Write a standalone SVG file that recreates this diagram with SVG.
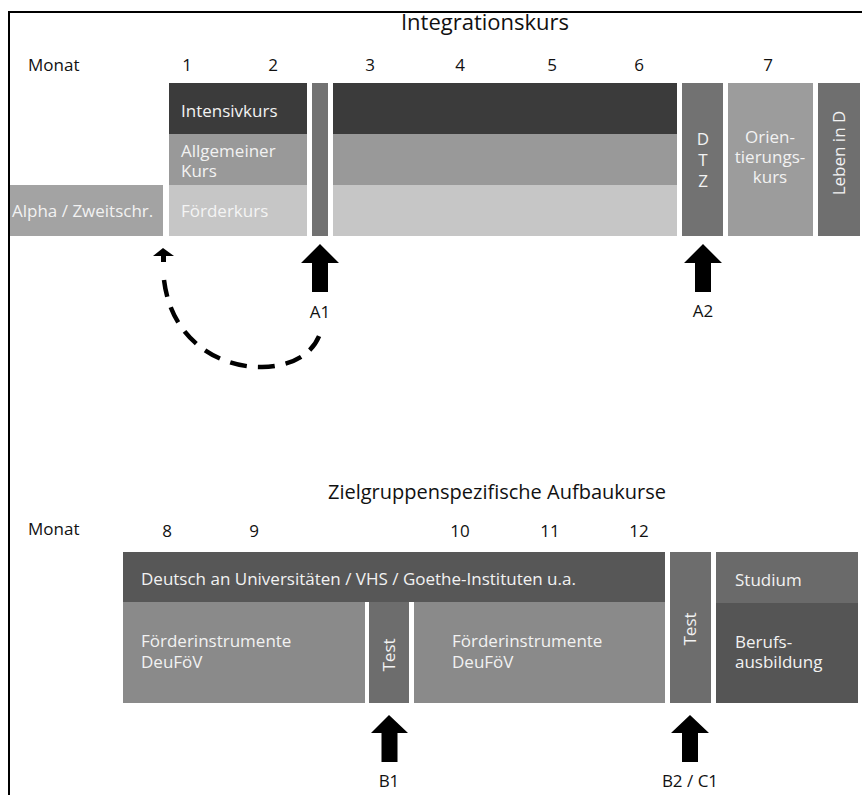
<svg xmlns="http://www.w3.org/2000/svg" width="862" height="795" viewBox="0 0 862 795">
  <style>
    text { font-family: "Open Sans", "Noto Sans", "DejaVu Sans", sans-serif; }
    .title { font-size: 22px; fill: #111; }
    .title2 { font-size: 20px; fill: #111; }
    .lbl { font-size: 17px; fill: #111; }
    .in { font-size: 17px; fill: #f2f2f2; }
    .inl { font-size: 17px; fill: #f4f4f4; }
    .mid { text-anchor: middle; }
    .arrow { fill: #000; }
    .dash { fill: none; stroke: #000; stroke-width: 4.5; stroke-dasharray: 17 11; }
  </style>

  <!-- frame -->
  <path d="M9 795 V12 H862" fill="none" stroke="#000" stroke-width="2"/>

  <!-- upper block: Integrationskurs -->
  <text class="title mid" x="485" y="30">Integrationskurs</text>
  <g id="months-top" class="lbl">
    <text x="28" y="71">Monat</text>
    <text class="mid" x="187" y="71">1</text>
    <text class="mid" x="273" y="71">2</text>
    <text class="mid" x="370" y="71">3</text>
    <text class="mid" x="460" y="71">4</text>
    <text class="mid" x="552" y="71">5</text>
    <text class="mid" x="639" y="71">6</text>
    <text class="mid" x="768" y="71">7</text>
  </g>

  <g id="alpha">
    <rect x="10" y="185" width="153" height="51" fill="#a3a3a3"/>
    <text class="in" x="12" y="217">Alpha / Zweitschr.</text>
  </g>
  <g id="intensivkurs">
    <rect x="169" y="83" width="138" height="51" fill="#3b3b3b"/>
    <text class="in" x="181" y="117">Intensivkurs</text>
  </g>
  <g id="allgemeiner-kurs">
    <rect x="169" y="134" width="138" height="51" fill="#999999"/>
    <text class="in" x="181" y="157">Allgemeiner</text>
    <text class="in" x="181" y="177">Kurs</text>
  </g>
  <g id="foerderkurs">
    <rect x="169" y="185" width="138" height="51" fill="#c6c6c6"/>
    <text class="inl" x="181" y="217">Förderkurs</text>
  </g>
  <g id="test-a1">
    <rect x="312" y="83" width="16" height="153" fill="#727272"/>
  </g>
  <g id="kurs-3-6">
    <rect x="333" y="83" width="344" height="51" fill="#3b3b3b"/>
    <rect x="333" y="134" width="344" height="51" fill="#999999"/>
    <rect x="333" y="185" width="344" height="51" fill="#c6c6c6"/>
  </g>
  <g id="dtz">
    <rect x="682" y="83" width="41" height="153" fill="#727272"/>
    <text class="in mid" x="703" y="145">D</text>
    <text class="in mid" x="703" y="166">T</text>
    <text class="in mid" x="703" y="187">Z</text>
  </g>
  <g id="orientierungskurs">
    <rect x="728" y="83" width="85" height="153" fill="#9c9c9c"/>
    <text class="in mid" x="770" y="143">Orien-</text>
    <text class="in mid" x="770" y="163">tierungs-</text>
    <text class="in mid" x="770" y="183">kurs</text>
  </g>
  <g id="leben-in-d">
    <rect x="818" y="83" width="42" height="153" fill="#6f6f6f"/>
    <text class="in mid" transform="translate(845 153) rotate(-90)">Leben in D</text>
  </g>

  <!-- lower block: Zielgruppenspezifische Aufbaukurse -->
  <text class="title2 mid" x="497" y="499">Zielgruppenspezifische Aufbaukurse</text>
  <g id="months-bottom" class="lbl">
    <text x="28" y="535">Monat</text>
    <text class="mid" x="167" y="537">8</text>
    <text class="mid" x="254" y="537">9</text>
    <text class="mid" x="460" y="537">10</text>
    <text class="mid" x="550" y="537">11</text>
    <text class="mid" x="639" y="537">12</text>
  </g>

  <g id="deutsch-an-universitaeten">
    <rect x="123" y="552" width="542" height="50" fill="#575757"/>
    <text class="in" x="141" y="585">Deutsch an Universitäten / VHS / Goethe-Instituten u.a.</text>
  </g>
  <g id="foerderinstrumente-1">
    <rect x="123" y="602" width="242" height="101" fill="#8a8a8a"/>
    <text class="in" x="141" y="647">Förderinstrumente</text>
    <text class="in" x="141" y="668">DeuFöV</text>
  </g>
  <g id="test-b1">
    <rect x="369" y="602" width="40" height="101" fill="#6d6d6d"/>
    <text class="in mid" transform="translate(395 655) rotate(-90)">Test</text>
  </g>
  <g id="foerderinstrumente-2">
    <rect x="414" y="602" width="251" height="101" fill="#8a8a8a"/>
    <text class="in" x="452" y="647">Förderinstrumente</text>
    <text class="in" x="452" y="668">DeuFöV</text>
  </g>
  <g id="test-b2-c1">
    <rect x="670" y="552" width="41" height="151" fill="#6d6d6d"/>
    <text class="in mid" transform="translate(696 629) rotate(-90)">Test</text>
  </g>
  <g id="studium">
    <rect x="716" y="552" width="142" height="51" fill="#6a6a6a"/>
    <text class="in" x="735" y="586">Studium</text>
  </g>
  <g id="berufsausbildung">
    <rect x="716" y="603" width="142" height="100" fill="#555555"/>
    <text class="in" x="735" y="648">Berufs-</text>
    <text class="in" x="735" y="668">ausbildung</text>
  </g>

  <!-- connectors: level arrows and return path -->
  <g id="connectors">
    <polygon class="arrow" points="163,248 174,256 166,256 166,262 161,262 161,256 153,256"/>
    <path class="dash" d="M164 280 C172 345 225 368 262 367 C300 366 318 348 322 326"/>
    <polygon class="arrow" points="320,244 339,263 328,263 328,292 312,292 312,263 301,263"/>
    <polygon class="arrow" points="703,244 722,263 711,263 711,292 695,292 695,263 684,263"/>
    <polygon class="arrow" points="389,715 408,733 397.5,733 397.5,762 381.5,762 381.5,733 371,733"/>
    <polygon class="arrow" points="690,715 709,733 698,733 698,762 682,762 682,733 671,733"/>
  </g>
  <g id="level-labels" class="lbl">
    <text class="mid" x="320" y="318">A1</text>
    <text class="mid" x="703" y="317">A2</text>
    <text class="mid" x="389" y="787">B1</text>
    <text class="mid" x="690" y="787">B2 / C1</text>
  </g>
</svg>
